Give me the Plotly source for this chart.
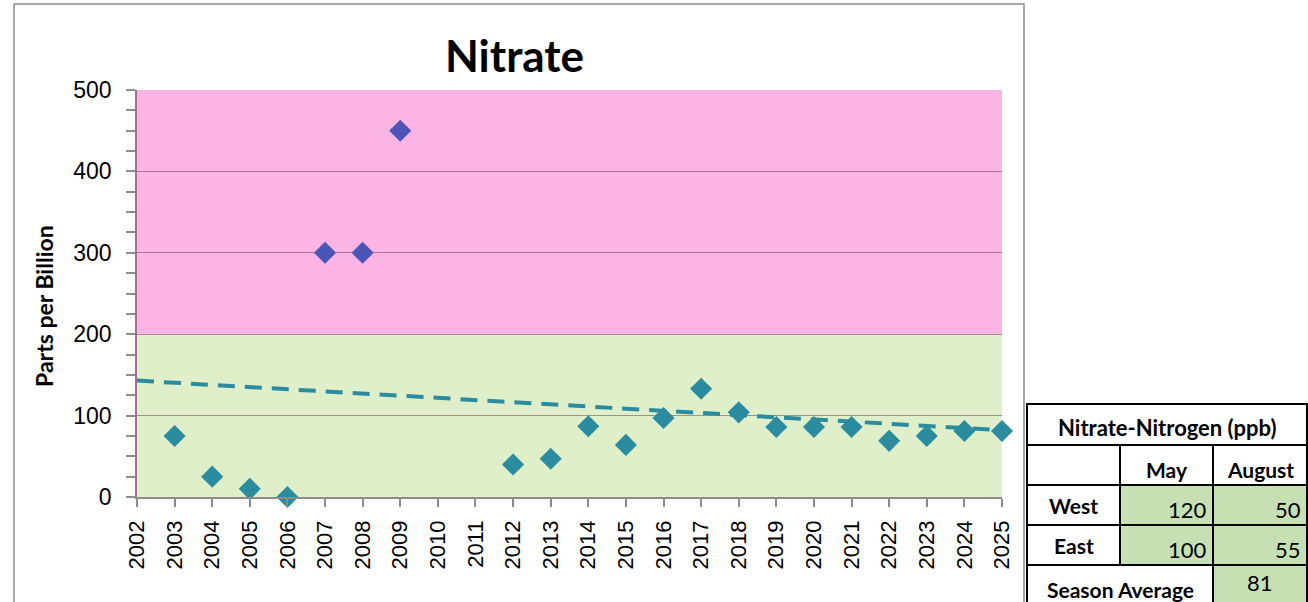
import plotly.graph_objects as go

# ---- data ----
years_low = [2003, 2004, 2005, 2006, 2012, 2013, 2014, 2015, 2016, 2017, 2018,
             2019, 2020, 2021, 2022, 2023, 2024, 2025]
vals_low = [75, 25, 10, 0, 40, 47, 87, 64, 97, 133, 104, 86, 86, 86, 69, 75, 81, 81]
years_high = [2007, 2008, 2009]
vals_high = [300, 300, 450]
trend_years = [2002, 2025]
trend_vals = [143, 82]
x_ticks = list(range(2002, 2026))
y_ticks = [0, 100, 200, 300, 400, 500]
band_low = [0, 200]
band_high = [200, 500]

table_title = "Nitrate-Nitrogen (ppb)"
table_cols = ["May", "August"]
table_rows = ["West", "East"]
table_values = [[120, 50], [100, 55]]
season_label = "Season Average"
season_avg = 81

# ---- layout geometry ----
W, H = 1308, 602
L, R, T, B = 137, 1002, 90, 497
PW, PH = R - L, B - T

def pxx(x):
    return (x - L) / PW

def pxy(y):
    return (B - y) / PH

TEAL = "#2A8C9E"
PURPLE = "#4B55B8"

fig = go.Figure()

fig.add_trace(go.Scatter(
    x=trend_years, y=trend_vals, mode="lines",
    line=dict(color=TEAL, width=4, dash="17px,10px"),
    hoverinfo="skip", showlegend=False))

fig.add_trace(go.Scatter(
    x=years_low, y=vals_low, mode="markers",
    marker=dict(symbol="diamond", size=17, color=TEAL, line=dict(width=0)),
    cliponaxis=False, showlegend=False))

fig.add_trace(go.Scatter(
    x=years_high, y=vals_high, mode="markers",
    marker=dict(symbol="diamond", size=17, color=PURPLE, line=dict(width=0)),
    cliponaxis=False, showlegend=False))

shapes = []
# background bands
shapes.append(dict(type="rect", xref="x", yref="y", x0=x_ticks[0], x1=x_ticks[-1],
                   y0=band_low[0], y1=band_low[1], fillcolor="#DEEFC9",
                   line=dict(width=0), layer="below"))
shapes.append(dict(type="rect", xref="x", yref="y", x0=x_ticks[0], x1=x_ticks[-1],
                   y0=band_high[0], y1=band_high[1], fillcolor="#FBB4E3",
                   line=dict(width=0), layer="below"))
# outer chart frame
shapes.append(dict(type="rect", xref="paper", yref="paper",
                   x0=pxx(14), x1=pxx(1024), y0=pxy(640), y1=pxy(4),
                   line=dict(color="#8C8C8C", width=1.5), fillcolor="rgba(0,0,0,0)"))

annotations = []
annotations.append(dict(text="<b>Nitrate</b>", xref="paper", yref="paper",
                        x=pxx(514), y=pxy(55), xanchor="center", yanchor="middle",
                        showarrow=False,
                        font=dict(family="Lato", size=44, color="black")))
annotations.append(dict(text="<b>Parts per Billion</b>", xref="paper", yref="paper",
                        x=pxx(44), y=pxy(306), xanchor="center", yanchor="middle",
                        showarrow=False, textangle=-90,
                        font=dict(family="Lato", size=23, color="black")))

# ---- table ----
TX0, TX1, TX2, TX3 = 1027, 1120, 1213, 1307
TY = [404, 445, 485, 525, 565, 640]
GREEN_CELL = "#C6E0B4"
BLK = dict(color="black", width=2)

def rect(x0, x1, y0, y1, fill="white"):
    shapes.append(dict(type="rect", xref="paper", yref="paper",
                       x0=pxx(x0), x1=pxx(x1), y0=pxy(y1), y1=pxy(y0),
                       fillcolor=fill, line=BLK, layer="above"))

def text(s, x, y, xanchor="center", bold=True, size=21):
    annotations.append(dict(text=("<b>%s</b>" % s) if bold else s,
                            xref="paper", yref="paper", x=pxx(x), y=pxy(y),
                            xanchor=xanchor, yanchor="middle", showarrow=False,
                            font=dict(family="Lato", size=size, color="black")))

rect(TX0, TX3, TY[0], TY[1])
text(table_title, (TX0 + TX3) / 2, (TY[0] + TY[1]) / 2 + 3, size=22)
rect(TX0, TX1, TY[1], TY[2])
for i, c in enumerate(table_cols):
    xa, xb = [TX1, TX2, TX3][i], [TX1, TX2, TX3][i + 1]
    rect(xa, xb, TY[1], TY[2])
    text(c, (xa + xb) / 2, (TY[1] + TY[2]) / 2 + 4)
for r, name in enumerate(table_rows):
    ya, yb = TY[2 + r], TY[3 + r]
    rect(TX0, TX1, ya, yb)
    text(name, (TX0 + TX1) / 2, (ya + yb) / 2)
    for i, v in enumerate(table_values[r]):
        xa, xb = [TX1, TX2, TX3][i], [TX1, TX2, TX3][i + 1]
        rect(xa, xb, ya, yb, GREEN_CELL)
        text(str(v), xb - 4, (ya + yb) / 2 + 4, xanchor="right", bold=False, size=22)
rect(TX0, TX2, TY[4], TY[5])
text(season_label, (TX0 + TX2) / 2, 589)
rect(TX2, TX3, TY[4], TY[5], GREEN_CELL)
text(str(season_avg), (TX2 + TX3) / 2, 582, bold=False, size=22)

fig.update_layout(
    width=W, height=H,
    margin=dict(l=L, r=W - R, t=T, b=H - B, pad=0),
    paper_bgcolor="white", plot_bgcolor="rgba(0,0,0,0)",
    shapes=shapes, annotations=annotations,
    showlegend=False,
    font=dict(family="Liberation Sans", color="black"),
)
fig.update_xaxes(
    range=[x_ticks[0], x_ticks[-1]], tickmode="array", tickvals=x_ticks,
    ticktext=[str(v) for v in x_ticks], tickangle=-90,
    tickfont=dict(family="Liberation Sans", size=22, color="black"),
    showgrid=False, zeroline=False, showline=True, linecolor="#8C8C8C", linewidth=1.5,
    ticks="outside", ticklen=8, tickcolor="#8C8C8C", tickwidth=1.5,
    ticklabelstandoff=5,
)
fig.update_yaxes(
    range=[0, 500], tickmode="array", tickvals=y_ticks,
    tickfont=dict(family="Liberation Sans", size=23, color="black"),
    showgrid=True, gridcolor="rgba(90,60,70,0.5)", gridwidth=1.2,
    zeroline=False, showline=True, linecolor="#A07090", linewidth=1.5,
    ticks="outside", ticklen=9, tickcolor="#8C8C8C", tickwidth=1.5,
    ticklabelstandoff=10,
    minor=dict(dtick=25, ticks="outside", ticklen=9, tickcolor="#8C8C8C", showgrid=False),
)

fig.write_html("out.html", config={"displayModeBar": False},
               post_script="document.body.style.margin='0';document.body.style.overflow='hidden';")
